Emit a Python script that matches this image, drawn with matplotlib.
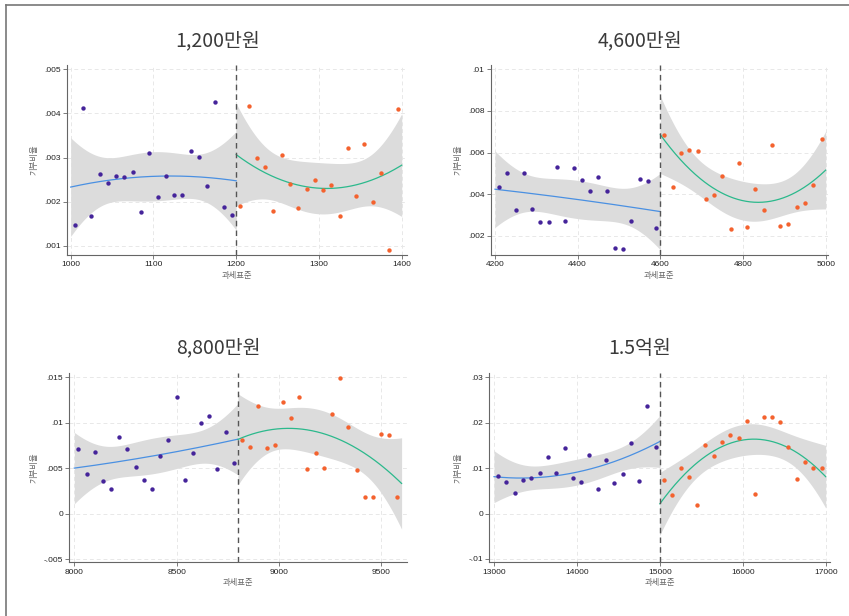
import numpy as np
import matplotlib
matplotlib.use("Agg")
import matplotlib.pyplot as plt
from matplotlib.lines import Line2D

plt.rcParams['font.family'] = ['Liberation Sans', 'Noto Sans CJK KR', 'DejaVu Sans']

# ---------------- data (binned means) ----------------
titles = ["1,200만원", "4,600만원", "8,800만원", "1.5억원"]
cutoffs = [1200, 4600, 8800, 15000]
ranges = [(1000, 1400), (4200, 5000), (8000, 9600), (13000, 17000)]

p1_x_left = [1005, 1015, 1025, 1035, 1045, 1055, 1065, 1075, 1085, 1095,
             1105, 1115, 1125, 1135, 1145, 1155, 1165, 1175, 1185, 1195]
p1_y_left = [.001468, .004125, .00167, .002638, .002419, .002585, .002562, .002668, .00177, .003098,
             .002109, .002592, .002147, .002162, .003151, .003008, .002358, .004268, .001883, .001709]
p1_x_right = [1205, 1215, 1225, 1235, 1245, 1255, 1265, 1275, 1285, 1295,
              1305, 1315, 1325, 1335, 1345, 1355, 1365, 1375, 1385, 1395]
p1_y_right = [.001898, .00417, .002992, .002789, .001785, .003068, .002404, .00186, .002298, .002494,
              .002275, .002389, .001687, .003226, .002132, .003317, .002, .002645, .000902, .004094]

p2_x_left = [4210, 4230, 4250, 4270, 4290, 4310, 4330, 4350, 4370, 4390,
             4410, 4430, 4450, 4470, 4490, 4510, 4530, 4550, 4570, 4590]
p2_y_left = [.004357, .00503, .003234, .00503, .003266, .002641, .002641, .005303, .002721, .005255,
             .004661, .004132, .004822, .004148, .001423, .001359, .002721, .004741, .004645, .002385]
p2_x_right = [4610, 4630, 4650, 4670, 4690, 4710, 4730, 4750, 4770, 4790,
              4810, 4830, 4850, 4870, 4890, 4910, 4930, 4950, 4970, 4990]
p2_y_right = [.006826, .004341, .005992, .006136, .006088, .003748, .00394, .004886, .002337, .005495,
              .002433, .004228, .003218, .006377, .002449, .002577, .003395, .003555, .004437, .006633]

p3_x_left = [8020, 8060, 8100, 8140, 8180, 8220, 8260, 8300, 8340, 8380,
             8420, 8460, 8500, 8540, 8580, 8620, 8660, 8700, 8740, 8780]
p3_y_left = [.007073, .004394, .006817, .00355, .00267, .008394, .00711, .005128, .003697, .00267,
             .006303, .0081, .0128, .003734, .00666, .01, .01078, .004945, .009018, .00553]
p3_x_right = [8820, 8860, 8900, 8940, 8980, 9020, 9060, 9100, 9140, 9180,
              9220, 9260, 9300, 9340, 9380, 9420, 9460, 9500, 9540, 9580]
p3_y_right = [.008064, .00733, .011844, .007183, .007514, .012248, .010523, .012835, .004908, .00667,
              .005018, .010999, .014963, .009495, .004761, .001789, .001862, .008761, .008615, .001826]

p4_x_left = [13050, 13150, 13250, 13350, 13450, 13550, 13650, 13750, 13850, 13950,
             14050, 14150, 14250, 14350, 14450, 14550, 14650, 14750, 14850, 14950]
p4_y_left = [.00835, .006954, .004606, .007321, .007908, .008862, .01246, .008862, .01451, .007908,
             .007028, .01282, .005486, .01174, .006661, .008716, .01554, .007248, .02376, .01474]
p4_x_right = [15050, 15150, 15250, 15350, 15450, 15550, 15650, 15750, 15850, 15950,
              16050, 16150, 16250, 16350, 16450, 16550, 16650, 16750, 16850, 16950]
p4_y_right = [.007468, .004165, .009963, .008055, .001963, .01517, .01275, .01576, .01736, .01662,
              .02037, .004385, .02118, .02125, .02015, .01474, .007541, .01136, .009963, .009963]

xticks = [[1000, 1100, 1200, 1300, 1400], [4200, 4400, 4600, 4800, 5000],
          [8000, 8500, 9000, 9500], [13000, 14000, 15000, 16000, 17000]]
yticks = [[.001, .002, .003, .004, .005], [.002, .004, .006, .008, .01],
          [-.005, 0, .005, .01, .015], [-.01, 0, .01, .02, .03]]
yticklabels = [[".001", ".002", ".003", ".004", ".005"], [".002", ".004", ".006", ".008", ".01"],
               ["-.005", "0", ".005", ".01", ".015"], ["-.01", "0", ".01", ".02", ".03"]]

xlabel = "과세표준"
ylabel = "기부비율"

# ---------------- layout ----------------
W, H = 849, 616
fig = plt.figure(figsize=(W / 100, H / 100), dpi=100)

def fb(l, t, r, b):
    return [l / W, 1 - b / H, (r - l) / W, (b - t) / H]

boxes = [fb(66.7, 65, 407, 255), fb(490.7, 65, 828, 255),
         fb(69.3, 372.7, 406.7, 562.3), fb(489.3, 372.7, 830, 562.3)]
xlims = [(995.2, 1406.4), (4189.6, 5005.6), (7975.5, 9625), (12943, 17052)]
ylims = [(.000796, .005097), (.001072, .010207), (-.005363, .015506), (-.01073, .03101)]
title_pos = [(218, 41), (640, 41), (218, 348), (640, 348)]

C_PT_L = "#45249a"
C_PT_R = "#f4622e"
C_LN_L = "#4a90e2"
C_LN_R = "#2bb98c"
C_BAND = "#dcdcdc"
T975 = 2.1098  # t critical value, df = 17

def qfit(x, y, grid):
    x = np.asarray(x, float); y = np.asarray(y, float)
    m = x.mean(); s = x.std()
    z = (x - m) / s
    X = np.column_stack([np.ones_like(z), z, z ** 2])
    beta, *_ = np.linalg.lstsq(X, y, rcond=None)
    resid = y - X @ beta
    dof = len(x) - 3
    sig2 = resid @ resid / dof
    XtXi = np.linalg.inv(X.T @ X)
    zg = (grid - m) / s
    G = np.column_stack([np.ones_like(zg), zg, zg ** 2])
    yhat = G @ beta
    se = np.sqrt(sig2 * np.einsum('ij,jk,ik->i', G, XtXi, G))
    return yhat, yhat - T975 * se, yhat + T975 * se

data = [(p1_x_left, p1_y_left, p1_x_right, p1_y_right),
        (p2_x_left, p2_y_left, p2_x_right, p2_y_right),
        (p3_x_left, p3_y_left, p3_x_right, p3_y_right),
        (p4_x_left, p4_y_left, p4_x_right, p4_y_right)]

for i in range(4):
    ax = fig.add_axes(boxes[i])
    xl, yl, xr, yr = data[i]
    lo, hi = ranges[i]
    c = cutoffs[i]
    gl = np.linspace(lo, c, 200)
    gr = np.linspace(c, hi, 200)
    fl, ll, ul = qfit(xl, yl, gl)
    fr, lr, ur = qfit(xr, yr, gr)
    ax.fill_between(gl, ll, ul, color=C_BAND, lw=0, zorder=1)
    ax.fill_between(gr, lr, ur, color=C_BAND, lw=0, zorder=1)
    ax.plot(gl, fl, color=C_LN_L, lw=0.9, zorder=3)
    ax.plot(gr, fr, color=C_LN_R, lw=0.9, zorder=3)
    ax.scatter(xl, yl, s=10, color=C_PT_L, lw=0, zorder=4)
    ax.scatter(xr, yr, s=10, color=C_PT_R, lw=0, zorder=4)
    ax.axvline(c, color="#555555", lw=1.0, ls=(0, (4, 3)), zorder=5)

    ax.set_xlim(*xlims[i]); ax.set_ylim(*ylims[i])
    ax.set_xticks(xticks[i])
    ax.set_xticklabels([str(t) for t in xticks[i]])
    ax.set_yticks(yticks[i])
    ax.set_yticklabels(yticklabels[i])
    ax.grid(True, color="#e8e8e8", lw=0.7, ls=(0, (4, 3)), zorder=0)
    ax.set_axisbelow(True)
    for sp in ["top", "right"]:
        ax.spines[sp].set_visible(False)
    for sp in ["left", "bottom"]:
        ax.spines[sp].set_color("#666666")
        ax.spines[sp].set_linewidth(0.8)
    ax.tick_params(axis='both', labelsize=6, length=3, width=0.6, color="#666666",
                   labelcolor="#222222", pad=1.5)
    ax.set_xlabel(xlabel, fontsize=6, color="#666666", labelpad=2,
                  family=['Noto Sans CJK KR'])
    ax.set_ylabel(ylabel, fontsize=6, color="#666666", labelpad=4,
                  family=['Noto Sans CJK KR'])
    tx, ty = title_pos[i]
    fig.text(tx / W, 1 - ty / H, titles[i], ha='center', va='center', fontsize=14,
             color="#3a3a3a", family=['Noto Sans CJK KR'], fontweight='light')

# figure border (left and top lines)
fig.add_artist(Line2D([6 / W, 6 / W], [0, 1 - 4.5 / H], transform=fig.transFigure,
                      color="#777777", lw=1.2))
fig.add_artist(Line2D([6 / W, 1], [1 - 4.5 / H, 1 - 4.5 / H], transform=fig.transFigure,
                      color="#777777", lw=1.2))

fig.savefig("out.png", dpi=100)
